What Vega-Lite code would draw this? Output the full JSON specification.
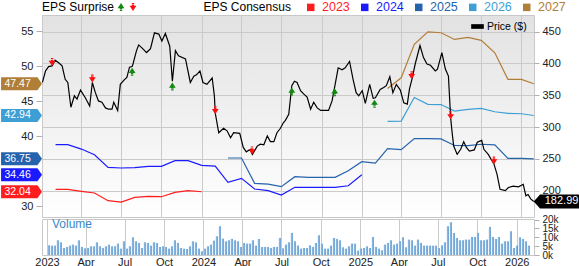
{
  "$schema": "https://vega.github.io/schema/vega-lite/v6.json",
  "padding": 0,
  "autosize": {"type": "pad"},
  "background": "white",
  "spacing": 2,
  "bounds": "flush",
  "config": {
    "font": "Liberation Sans",
    "view": {"stroke": "#c8c8c8"},
    "axis": {"labelFont": "Liberation Sans", "labelFontSize": 11, "labelColor": "#222222", "tickColor": "#b0b0b0", "gridColor": "#cacaca", "domain": false, "title": null},
    "legend": {"labelFont": "Liberation Sans", "titleFont": "Liberation Sans", "labelFontSize": 12, "titleFontSize": 12, "titleFontWeight": "normal", "titleColor": "#000000", "labelColor": "#000000", "padding": 0, "offset": 0}
  },
  "datasets": {
    "consensus": [
      {"year": "2023", "date": "2023-02-01", "eps": 32.38}, {"year": "2023", "date": "2023-03-01", "eps": 32.38}, {"year": "2023", "date": "2023-04-01", "eps": 32.1}, {"year": "2023", "date": "2023-05-01", "eps": 31.86}, {"year": "2023", "date": "2023-06-01", "eps": 30.76}, {"year": "2023", "date": "2023-07-01", "eps": 30.57}, {"year": "2023", "date": "2023-08-01", "eps": 31.24}, {"year": "2023", "date": "2023-09-01", "eps": 31.38}, {"year": "2023", "date": "2023-10-01", "eps": 31.33}, {"year": "2023", "date": "2023-11-01", "eps": 31.95}, {"year": "2023", "date": "2023-12-01", "eps": 32.19}, {"year": "2023", "date": "2024-01-01", "eps": 32.04},
      {"year": "2024", "date": "2023-02-01", "eps": 38.76}, {"year": "2024", "date": "2023-03-01", "eps": 38.76}, {"year": "2024", "date": "2023-04-01", "eps": 38.14}, {"year": "2024", "date": "2023-05-01", "eps": 37.33}, {"year": "2024", "date": "2023-06-01", "eps": 35.53}, {"year": "2024", "date": "2023-07-01", "eps": 35.43}, {"year": "2024", "date": "2023-08-01", "eps": 35.48}, {"year": "2024", "date": "2023-09-01", "eps": 35.67}, {"year": "2024", "date": "2023-10-01", "eps": 35.67}, {"year": "2024", "date": "2023-11-01", "eps": 36.48}, {"year": "2024", "date": "2023-12-01", "eps": 36.48}, {"year": "2024", "date": "2024-01-01", "eps": 35.81}, {"year": "2024", "date": "2024-02-01", "eps": 35.71}, {"year": "2024", "date": "2024-03-01", "eps": 33.38}, {"year": "2024", "date": "2024-04-01", "eps": 33.96}, {"year": "2024", "date": "2024-05-01", "eps": 32.43}, {"year": "2024", "date": "2024-06-01", "eps": 32.19}, {"year": "2024", "date": "2024-07-01", "eps": 31.57}, {"year": "2024", "date": "2024-08-01", "eps": 32.67}, {"year": "2024", "date": "2024-09-01", "eps": 32.67}, {"year": "2024", "date": "2024-10-01", "eps": 32.67}, {"year": "2024", "date": "2024-11-01", "eps": 32.67}, {"year": "2024", "date": "2024-12-01", "eps": 32.9}, {"year": "2024", "date": "2025-01-01", "eps": 34.46},
      {"year": "2025", "date": "2024-03-01", "eps": 36.86}, {"year": "2025", "date": "2024-04-01", "eps": 36.86}, {"year": "2025", "date": "2024-05-01", "eps": 33.24}, {"year": "2025", "date": "2024-06-01", "eps": 33.14}, {"year": "2025", "date": "2024-07-01", "eps": 32.76}, {"year": "2025", "date": "2024-08-01", "eps": 34.19}, {"year": "2025", "date": "2024-09-01", "eps": 34.1}, {"year": "2025", "date": "2024-10-01", "eps": 34.1}, {"year": "2025", "date": "2024-11-01", "eps": 34.1}, {"year": "2025", "date": "2024-12-01", "eps": 35.04}, {"year": "2025", "date": "2025-01-01", "eps": 36.33}, {"year": "2025", "date": "2025-02-01", "eps": 36.14}, {"year": "2025", "date": "2025-03-01", "eps": 38.19}, {"year": "2025", "date": "2025-04-01", "eps": 38.05}, {"year": "2025", "date": "2025-05-01", "eps": 39.65}, {"year": "2025", "date": "2025-06-01", "eps": 39.63}, {"year": "2025", "date": "2025-07-01", "eps": 39.6}, {"year": "2025", "date": "2025-08-01", "eps": 38.65}, {"year": "2025", "date": "2025-09-01", "eps": 38.62}, {"year": "2025", "date": "2025-10-01", "eps": 38.83}, {"year": "2025", "date": "2025-11-01", "eps": 38.73}, {"year": "2025", "date": "2025-12-01", "eps": 36.81}, {"year": "2025", "date": "2026-01-01", "eps": 36.8}, {"year": "2025", "date": "2026-01-29", "eps": 36.75},
      {"year": "2026", "date": "2025-03-01", "eps": 42.1}, {"year": "2026", "date": "2025-04-01", "eps": 42.14}, {"year": "2026", "date": "2025-05-01", "eps": 45.5}, {"year": "2026", "date": "2025-06-01", "eps": 44.53}, {"year": "2026", "date": "2025-07-01", "eps": 44.5}, {"year": "2026", "date": "2025-08-01", "eps": 43.57}, {"year": "2026", "date": "2025-09-01", "eps": 43.8}, {"year": "2026", "date": "2025-10-01", "eps": 43.95}, {"year": "2026", "date": "2025-11-01", "eps": 43.47}, {"year": "2026", "date": "2025-12-01", "eps": 43.24}, {"year": "2026", "date": "2026-01-01", "eps": 43.19}, {"year": "2026", "date": "2026-01-29", "eps": 42.94},
      {"year": "2027", "date": "2025-03-01", "eps": 46.8}, {"year": "2027", "date": "2025-04-01", "eps": 48.33}, {"year": "2027", "date": "2025-05-01", "eps": 53.1}, {"year": "2027", "date": "2025-06-01", "eps": 54.9}, {"year": "2027", "date": "2025-07-01", "eps": 54.76}, {"year": "2027", "date": "2025-08-01", "eps": 53.81}, {"year": "2027", "date": "2025-09-01", "eps": 54.1}, {"year": "2027", "date": "2025-10-01", "eps": 53.67}, {"year": "2027", "date": "2025-11-01", "eps": 51.9}, {"year": "2027", "date": "2025-12-01", "eps": 48.1}, {"year": "2027", "date": "2026-01-01", "eps": 48.1}, {"year": "2027", "date": "2026-01-29", "eps": 47.47}
    ],
    "price": [
      {"date": "2023-01-02", "price": 370}, {"date": "2023-01-09", "price": 388}, {"date": "2023-01-16", "price": 395}, {"date": "2023-01-24", "price": 396}, {"date": "2023-01-31", "price": 405}, {"date": "2023-02-08", "price": 401}, {"date": "2023-02-16", "price": 396}, {"date": "2023-02-23", "price": 375}, {"date": "2023-03-01", "price": 370}, {"date": "2023-03-08", "price": 331}, {"date": "2023-03-16", "price": 349}, {"date": "2023-03-22", "price": 344}, {"date": "2023-03-30", "price": 358}, {"date": "2023-04-10", "price": 346}, {"date": "2023-04-20", "price": 333}, {"date": "2023-04-26", "price": 370}, {"date": "2023-05-03", "price": 354}, {"date": "2023-05-10", "price": 341}, {"date": "2023-05-18", "price": 339}, {"date": "2023-05-26", "price": 330}, {"date": "2023-06-02", "price": 328}, {"date": "2023-06-10", "price": 328}, {"date": "2023-06-14", "price": 339}, {"date": "2023-06-23", "price": 326}, {"date": "2023-06-29", "price": 367}, {"date": "2023-07-08", "price": 374}, {"date": "2023-07-14", "price": 378}, {"date": "2023-07-20", "price": 394}, {"date": "2023-07-26", "price": 395}, {"date": "2023-07-28", "price": 399}, {"date": "2023-08-05", "price": 420}, {"date": "2023-08-10", "price": 429}, {"date": "2023-08-18", "price": 424}, {"date": "2023-08-28", "price": 417}, {"date": "2023-09-06", "price": 423}, {"date": "2023-09-15", "price": 448}, {"date": "2023-09-25", "price": 446}, {"date": "2023-10-02", "price": 435}, {"date": "2023-10-10", "price": 447}, {"date": "2023-10-20", "price": 427}, {"date": "2023-10-26", "price": 372}, {"date": "2023-11-02", "price": 420}, {"date": "2023-11-09", "price": 412}, {"date": "2023-11-25", "price": 407}, {"date": "2023-12-06", "price": 370}, {"date": "2023-12-14", "price": 380}, {"date": "2023-12-20", "price": 382}, {"date": "2023-12-28", "price": 388},
      {"date": "2024-01-04", "price": 370}, {"date": "2024-01-13", "price": 367}, {"date": "2024-01-25", "price": 377}, {"date": "2024-01-30", "price": 349}, {"date": "2024-02-01", "price": 322}, {"date": "2024-02-09", "price": 291}, {"date": "2024-02-20", "price": 298}, {"date": "2024-02-28", "price": 294}, {"date": "2024-03-07", "price": 283}, {"date": "2024-03-14", "price": 291}, {"date": "2024-03-28", "price": 290}, {"date": "2024-04-05", "price": 268}, {"date": "2024-04-12", "price": 261}, {"date": "2024-04-21", "price": 265}, {"date": "2024-04-26", "price": 257}, {"date": "2024-05-07", "price": 270}, {"date": "2024-05-14", "price": 273}, {"date": "2024-05-22", "price": 272}, {"date": "2024-05-30", "price": 286}, {"date": "2024-06-06", "price": 277}, {"date": "2024-06-14", "price": 277}, {"date": "2024-06-21", "price": 291}, {"date": "2024-06-29", "price": 298}, {"date": "2024-07-06", "price": 307}, {"date": "2024-07-10", "price": 310}, {"date": "2024-07-18", "price": 320}, {"date": "2024-07-25", "price": 365}, {"date": "2024-07-31", "price": 372}, {"date": "2024-08-06", "price": 370}, {"date": "2024-08-14", "price": 357}, {"date": "2024-08-21", "price": 352}, {"date": "2024-08-29", "price": 347}, {"date": "2024-09-06", "price": 328}, {"date": "2024-09-13", "price": 339}, {"date": "2024-09-21", "price": 330}, {"date": "2024-09-29", "price": 326}, {"date": "2024-10-10", "price": 326}, {"date": "2024-10-17", "price": 326}, {"date": "2024-10-25", "price": 341}, {"date": "2024-10-31", "price": 363}, {"date": "2024-11-08", "price": 393}, {"date": "2024-11-17", "price": 390}, {"date": "2024-11-24", "price": 393}, {"date": "2024-12-04", "price": 403}, {"date": "2024-12-12", "price": 375}, {"date": "2024-12-19", "price": 354}, {"date": "2024-12-25", "price": 349},
      {"date": "2025-01-02", "price": 357}, {"date": "2025-01-09", "price": 337}, {"date": "2025-01-19", "price": 367}, {"date": "2025-01-27", "price": 345}, {"date": "2025-02-01", "price": 346}, {"date": "2025-02-12", "price": 359}, {"date": "2025-02-20", "price": 362}, {"date": "2025-02-26", "price": 365}, {"date": "2025-03-06", "price": 379}, {"date": "2025-03-13", "price": 354}, {"date": "2025-03-21", "price": 367}, {"date": "2025-03-30", "price": 358}, {"date": "2025-04-07", "price": 338}, {"date": "2025-04-15", "price": 336}, {"date": "2025-04-20", "price": 360}, {"date": "2025-04-26", "price": 376}, {"date": "2025-05-03", "price": 399}, {"date": "2025-05-14", "price": 428}, {"date": "2025-05-22", "price": 409}, {"date": "2025-05-30", "price": 399}, {"date": "2025-06-07", "price": 397}, {"date": "2025-06-18", "price": 388}, {"date": "2025-06-23", "price": 391}, {"date": "2025-07-03", "price": 417}, {"date": "2025-07-11", "price": 391}, {"date": "2025-07-18", "price": 380}, {"date": "2025-07-23", "price": 315}, {"date": "2025-07-26", "price": 294}, {"date": "2025-07-30", "price": 270}, {"date": "2025-08-07", "price": 257}, {"date": "2025-08-15", "price": 265}, {"date": "2025-08-22", "price": 277}, {"date": "2025-08-28", "price": 268}, {"date": "2025-09-04", "price": 262}, {"date": "2025-09-15", "price": 264}, {"date": "2025-09-22", "price": 276}, {"date": "2025-10-02", "price": 279}, {"date": "2025-10-07", "price": 265}, {"date": "2025-10-17", "price": 257}, {"date": "2025-10-30", "price": 242}, {"date": "2025-11-06", "price": 226}, {"date": "2025-11-13", "price": 202}, {"date": "2025-11-25", "price": 200}, {"date": "2025-12-02", "price": 205}, {"date": "2025-12-13", "price": 207}, {"date": "2025-12-25", "price": 206}, {"date": "2026-01-05", "price": 210}, {"date": "2026-01-11", "price": 192}, {"date": "2026-01-16", "price": 194}, {"date": "2026-01-22", "price": 187}, {"date": "2026-01-29", "price": 182.99}
    ],
    "surprise": [
      {"date": "2023-01-24", "price": 396, "type": "miss"}, {"date": "2023-04-26", "price": 370, "type": "miss"}, {"date": "2023-07-26", "price": 393, "type": "beat"}, {"date": "2023-10-26", "price": 370, "type": "beat"}, {"date": "2024-02-01", "price": 320, "type": "miss"}, {"date": "2024-04-25", "price": 257, "type": "miss"}, {"date": "2024-07-25", "price": 362, "type": "beat"}, {"date": "2024-10-31", "price": 361, "type": "beat"}, {"date": "2025-01-30", "price": 343, "type": "beat"}, {"date": "2025-04-25", "price": 375, "type": "miss"}, {"date": "2025-07-23", "price": 312, "type": "miss"}, {"date": "2025-10-30", "price": 241, "type": "miss"}
    ],
    "volume": [
      {"date": "2023-01-05", "vol": 5480}, {"date": "2023-01-12", "vol": 5290}, {"date": "2023-01-19", "vol": 5290}, {"date": "2023-01-26", "vol": 8310}, {"date": "2023-02-02", "vol": 7180}, {"date": "2023-02-09", "vol": 3970}, {"date": "2023-02-16", "vol": 4540}, {"date": "2023-02-23", "vol": 5290}, {"date": "2023-03-02", "vol": 5860}, {"date": "2023-03-09", "vol": 5290},
      {"date": "2023-03-16", "vol": 8310}, {"date": "2023-03-23", "vol": 4540}, {"date": "2023-03-30", "vol": 3790}, {"date": "2023-04-06", "vol": 3970}, {"date": "2023-04-13", "vol": 4920}, {"date": "2023-04-20", "vol": 4920}, {"date": "2023-04-27", "vol": 7180}, {"date": "2023-05-04", "vol": 4920}, {"date": "2023-05-11", "vol": 3970}, {"date": "2023-05-18", "vol": 4920},
      {"date": "2023-05-25", "vol": 5860}, {"date": "2023-06-01", "vol": 4920}, {"date": "2023-06-08", "vol": 4920}, {"date": "2023-06-15", "vol": 6420}, {"date": "2023-06-22", "vol": 3600}, {"date": "2023-06-29", "vol": 7740}, {"date": "2023-07-06", "vol": 3600}, {"date": "2023-07-13", "vol": 4920}, {"date": "2023-07-20", "vol": 10000}, {"date": "2023-07-27", "vol": 7740},
      {"date": "2023-08-03", "vol": 6800}, {"date": "2023-08-10", "vol": 3970}, {"date": "2023-08-17", "vol": 7180}, {"date": "2023-08-24", "vol": 6800}, {"date": "2023-08-31", "vol": 5290}, {"date": "2023-09-07", "vol": 7180}, {"date": "2023-09-14", "vol": 6800}, {"date": "2023-09-21", "vol": 4540}, {"date": "2023-09-28", "vol": 4920}, {"date": "2023-10-05", "vol": 4540},
      {"date": "2023-10-12", "vol": 3600}, {"date": "2023-10-19", "vol": 4920}, {"date": "2023-10-26", "vol": 8310}, {"date": "2023-11-02", "vol": 6800}, {"date": "2023-11-09", "vol": 3970}, {"date": "2023-11-16", "vol": 3600}, {"date": "2023-11-23", "vol": 3410}, {"date": "2023-11-30", "vol": 4920}, {"date": "2023-12-07", "vol": 7740}, {"date": "2023-12-14", "vol": 7180},
      {"date": "2023-12-21", "vol": 3600}, {"date": "2023-12-28", "vol": 2090}, {"date": "2024-01-04", "vol": 3600}, {"date": "2024-01-11", "vol": 4920}, {"date": "2024-01-18", "vol": 5860}, {"date": "2024-01-25", "vol": 8120}, {"date": "2024-02-01", "vol": 10560}, {"date": "2024-02-08", "vol": 16210}, {"date": "2024-02-15", "vol": 9250}, {"date": "2024-02-22", "vol": 7740},
      {"date": "2024-02-29", "vol": 8310}, {"date": "2024-03-07", "vol": 9060}, {"date": "2024-03-14", "vol": 8310}, {"date": "2024-03-21", "vol": 7740}, {"date": "2024-03-28", "vol": 4540}, {"date": "2024-04-04", "vol": 6800}, {"date": "2024-04-11", "vol": 6420}, {"date": "2024-04-18", "vol": 6420}, {"date": "2024-04-25", "vol": 8310}, {"date": "2024-05-02", "vol": 5290},
      {"date": "2024-05-09", "vol": 9060}, {"date": "2024-05-16", "vol": 4540}, {"date": "2024-05-23", "vol": 4540}, {"date": "2024-05-30", "vol": 4540}, {"date": "2024-06-06", "vol": 3970}, {"date": "2024-06-13", "vol": 4540}, {"date": "2024-06-20", "vol": 4540}, {"date": "2024-06-27", "vol": 9620}, {"date": "2024-07-04", "vol": 3790}, {"date": "2024-07-11", "vol": 5860},
      {"date": "2024-07-18", "vol": 7180}, {"date": "2024-07-25", "vol": 12450}, {"date": "2024-08-01", "vol": 7740}, {"date": "2024-08-08", "vol": 5290}, {"date": "2024-08-15", "vol": 3600}, {"date": "2024-08-22", "vol": 3970}, {"date": "2024-08-29", "vol": 3970}, {"date": "2024-09-05", "vol": 5480}, {"date": "2024-09-12", "vol": 4540}, {"date": "2024-09-19", "vol": 6800},
      {"date": "2024-09-26", "vol": 11130}, {"date": "2024-10-03", "vol": 6420}, {"date": "2024-10-10", "vol": 3600}, {"date": "2024-10-17", "vol": 3600}, {"date": "2024-10-24", "vol": 5290}, {"date": "2024-10-31", "vol": 9620}, {"date": "2024-11-07", "vol": 9060}, {"date": "2024-11-14", "vol": 8310}, {"date": "2024-11-21", "vol": 4350}, {"date": "2024-11-28", "vol": 3600},
      {"date": "2024-12-05", "vol": 4920}, {"date": "2024-12-12", "vol": 6420}, {"date": "2024-12-19", "vol": 6420}, {"date": "2024-12-26", "vol": 2470}, {"date": "2025-01-02", "vol": 3600}, {"date": "2025-01-09", "vol": 3970}, {"date": "2025-01-16", "vol": 4920}, {"date": "2025-01-23", "vol": 3970}, {"date": "2025-01-30", "vol": 10190}, {"date": "2025-02-06", "vol": 4540},
      {"date": "2025-02-13", "vol": 3600}, {"date": "2025-02-20", "vol": 2660}, {"date": "2025-02-27", "vol": 5860}, {"date": "2025-03-06", "vol": 6800}, {"date": "2025-03-13", "vol": 8310}, {"date": "2025-03-20", "vol": 5860}, {"date": "2025-03-27", "vol": 6420}, {"date": "2025-04-03", "vol": 7740}, {"date": "2025-04-10", "vol": 10000}, {"date": "2025-04-17", "vol": 4350},
      {"date": "2025-04-24", "vol": 8680}, {"date": "2025-05-01", "vol": 8310}, {"date": "2025-05-08", "vol": 5290}, {"date": "2025-05-15", "vol": 8680}, {"date": "2025-05-22", "vol": 6800}, {"date": "2025-05-29", "vol": 5290}, {"date": "2025-06-05", "vol": 5290}, {"date": "2025-06-12", "vol": 5290}, {"date": "2025-06-19", "vol": 5290}, {"date": "2025-06-26", "vol": 5290},
      {"date": "2025-07-03", "vol": 3970}, {"date": "2025-07-10", "vol": 5480}, {"date": "2025-07-17", "vol": 7180}, {"date": "2025-07-24", "vol": 16210}, {"date": "2025-07-31", "vol": 18470}, {"date": "2025-08-07", "vol": 12450}, {"date": "2025-08-14", "vol": 9620}, {"date": "2025-08-21", "vol": 8310}, {"date": "2025-08-28", "vol": 8310}, {"date": "2025-09-04", "vol": 8680},
      {"date": "2025-09-11", "vol": 8680}, {"date": "2025-09-18", "vol": 10190}, {"date": "2025-09-25", "vol": 10190}, {"date": "2025-10-02", "vol": 12450}, {"date": "2025-10-09", "vol": 8310}, {"date": "2025-10-16", "vol": 8310}, {"date": "2025-10-23", "vol": 8680}, {"date": "2025-10-30", "vol": 15840}, {"date": "2025-11-06", "vol": 10190}, {"date": "2025-11-13", "vol": 9060},
      {"date": "2025-11-20", "vol": 10190}, {"date": "2025-11-27", "vol": 6420}, {"date": "2025-12-04", "vol": 7740}, {"date": "2025-12-11", "vol": 7740}, {"date": "2025-12-18", "vol": 13390}, {"date": "2025-12-25", "vol": 3970}, {"date": "2026-01-01", "vol": 5290}, {"date": "2026-01-08", "vol": 10000}, {"date": "2026-01-15", "vol": 9060}, {"date": "2026-01-22", "vol": 7740},
      {"date": "2026-01-29", "vol": 5290}
    ]
  },
  "resolve": {"scale": {"color": "independent", "fill": "independent", "shape": "independent", "stroke": "independent"}},
  "vconcat": [
    {
      "width": 492,
      "height": 202,
      "view": {"stroke": "#c8c8c8", "fill": {"gradient": "linear", "x1": 0, "y1": 0, "x2": 0, "y2": 1, "stops": [{"offset": 0, "color": "#e2e2e2"}, {"offset": 1, "color": "#ffffff"}]}},
      "encoding": {
        "x": {
          "field": "date", "type": "temporal",
          "scale": {"type": "utc", "domain": [{"year": 2023, "month": 1, "date": 1, "utc": true}, {"year": 2026, "month": 1, "date": 29, "hours": 14, "utc": true}]},
          "axis": {"values": [{"year": 2023, "month": 1, "date": 1, "utc": true}, {"year": 2023, "month": 4, "date": 1, "utc": true}, {"year": 2023, "month": 7, "date": 1, "utc": true}, {"year": 2023, "month": 10, "date": 1, "utc": true}, {"year": 2024, "month": 1, "date": 1, "utc": true}, {"year": 2024, "month": 4, "date": 1, "utc": true}, {"year": 2024, "month": 7, "date": 1, "utc": true}, {"year": 2024, "month": 10, "date": 1, "utc": true}, {"year": 2025, "month": 1, "date": 1, "utc": true}, {"year": 2025, "month": 4, "date": 1, "utc": true}, {"year": 2025, "month": 7, "date": 1, "utc": true}, {"year": 2025, "month": 10, "date": 1, "utc": true}, {"year": 2026, "month": 1, "date": 1, "utc": true}], "grid": true, "labels": false, "ticks": false, "domain": false, "title": null}
        }
      },
      "layer": [
        {
          "layer": [
            {
              "data": {"name": "consensus"},
              "mark": {"type": "line", "strokeWidth": 1.2},
              "encoding": {
                "y": {"field": "eps", "type": "quantitative", "scale": {"domain": [28.43, 57.3], "nice": false, "zero": false}, "axis": {"orient": "left", "values": [30, 40, 45, 50, 55], "grid": false, "tickSize": 6, "labelPadding": 3}},
                "color": {
                  "field": "year", "type": "nominal",
                  "scale": {"domain": ["2023", "2024", "2025", "2026", "2027"], "range": ["#ff1e1e", "#1a1aff", "#2563ad", "#3e9fd5", "#b17e37"]},
                  "legend": {
                    "title": "EPS Consensus", "orient": "none", "legendX": 161.5, "legendY": -14, "direction": "horizontal", "titleOrient": "left", "titlePadding": 13,
                    "symbolType": "square", "symbolSize": 56, "symbolStrokeWidth": 0, "labelOffset": 5, "columnPadding": 8, "labelFontSize": 12.5,
                    "encode": {
                      "symbols": {"update": {"fill": {"signal": "datum.label == '2023' ? '#ff1e1e' : datum.label == '2024' ? '#1a1aff' : datum.label == '2025' ? '#2563ad' : datum.label == '2026' ? '#3e9fd5' : '#b17e37'"}, "stroke": {"value": "transparent"}}},
                      "labels": {"update": {"fill": {"signal": "datum.label == '2023' ? '#ff1e1e' : datum.label == '2024' ? '#1a1aff' : datum.label == '2025' ? '#2563ad' : datum.label == '2026' ? '#3e9fd5' : '#b17e37'"}}}
                    }
                  }
                }
              }
            },
            {
              "data": {"name": "consensus"},
              "transform": [{"window": [{"op": "row_number", "as": "rn"}], "groupby": ["year"], "sort": [{"field": "date", "order": "descending"}]}, {"filter": "datum.rn == 1"}],
              "mark": {"type": "point", "shape": "M0,0L-0.7,-1L-6.3,-1L-6.3,1L-0.7,1Z", "size": 169, "filled": true, "opacity": 1, "strokeWidth": 0},
              "encoding": {
                "x": {"datum": {"year": 2023, "month": 1, "date": 1, "utc": true}, "type": "temporal"},
                "y": {"field": "eps", "type": "quantitative"},
                "color": {"field": "year", "type": "nominal", "legend": null}
              }
            },
            {
              "data": {"name": "consensus"},
              "transform": [{"window": [{"op": "row_number", "as": "rn"}], "groupby": ["year"], "sort": [{"field": "date", "order": "descending"}]}, {"filter": "datum.rn == 1"}],
              "mark": {"type": "text", "align": "left", "baseline": "middle", "dx": -37.5, "color": "#ffffff", "fontSize": 10.5},
              "encoding": {
                "x": {"datum": {"year": 2023, "month": 1, "date": 1, "utc": true}, "type": "temporal"},
                "y": {"field": "eps", "type": "quantitative"},
                "text": {"field": "eps", "type": "quantitative", "format": ".2f"}
              }
            }
          ]
        },
        {
          "layer": [
            {
              "data": {"name": "price"},
              "mark": {"type": "line", "strokeWidth": 1.2},
              "encoding": {
                "y": {"field": "price", "type": "quantitative", "scale": {"domain": [158.6, 476], "nice": false, "zero": false}, "axis": {"orient": "right", "values": [200, 250, 300, 350, 400, 450], "grid": true, "tickSize": 5, "labelPadding": 3}},
                "stroke": {
                  "datum": "Price ($)", "type": "nominal", "scale": {"range": ["#000000"]},
                  "legend": {"title": null, "orient": "none", "legendX": 429, "legendY": 5, "symbolType": "M-1,-0.37L1,-0.37L1,0.37L-1,0.37Z", "symbolSize": 160, "symbolStrokeWidth": 0, "labelFontSize": 10.5, "labelOffset": 3, "encode": {"symbols": {"update": {"fill": {"value": "#000000"}}}}}
                }
              }
            },
            {
              "data": {"name": "surprise"},
              "transform": [{"filter": "datum.type == 'beat'"}],
              "mark": {"type": "point", "filled": true, "opacity": 1, "size": 64, "strokeWidth": 0, "yOffset": 4},
              "encoding": {
                "y": {"field": "price", "type": "quantitative"},
                "fill": {"field": "type", "type": "nominal", "scale": {"domain": ["beat", "miss"], "range": ["#128a12", "#ff1010"]}, "legend": {"title": "EPS Surprise", "orient": "none", "legendX": 0, "legendY": -14, "direction": "horizontal", "titleOrient": "left", "titlePadding": 0, "labelExpr": "''", "labelOffset": 0, "columnPadding": -2, "symbolSize": 64, "symbolOpacity": 1, "symbolStrokeWidth": 0}},
                "shape": {"field": "type", "type": "nominal", "scale": {"domain": ["beat", "miss"], "range": ["M0,-1L0.85,0.3L0.3,0.3L0.3,0.55L-0.3,0.55L-0.3,0.3L-0.85,0.3Z M-0.3,0.7L0.3,0.7L0.3,1L-0.3,1Z", "M0,1L0.85,-0.3L0.3,-0.3L0.3,-0.55L-0.3,-0.55L-0.3,-0.3L-0.85,-0.3Z M-0.3,-0.7L0.3,-0.7L0.3,-1L-0.3,-1Z"]}, "legend": {"title": "EPS Surprise", "orient": "none", "legendX": 0, "legendY": -14, "direction": "horizontal", "titleOrient": "left", "titlePadding": 0, "labelExpr": "''", "labelOffset": 0, "columnPadding": -2, "symbolSize": 64, "symbolOpacity": 1, "symbolStrokeWidth": 0}}
              }
            },
            {
              "data": {"name": "surprise"},
              "transform": [{"filter": "datum.type == 'miss'"}],
              "mark": {"type": "point", "filled": true, "opacity": 1, "size": 64, "strokeWidth": 0, "yOffset": -4},
              "encoding": {
                "y": {"field": "price", "type": "quantitative"},
                "fill": {"field": "type", "type": "nominal"},
                "shape": {"field": "type", "type": "nominal"}
              }
            },
            {
              "data": {"name": "price"},
              "transform": [{"window": [{"op": "row_number", "as": "rn"}], "sort": [{"field": "date", "order": "descending"}]}, {"filter": "datum.rn == 1"}],
              "mark": {"type": "point", "shape": "M0,0L0.9,-1L6.5,-1L6.5,1L0.9,1Z", "size": 196, "filled": true, "color": "#000000", "opacity": 1, "strokeWidth": 0},
              "encoding": {"y": {"field": "price", "type": "quantitative"}}
            },
            {
              "data": {"name": "price"},
              "transform": [{"window": [{"op": "row_number", "as": "rn"}], "sort": [{"field": "date", "order": "descending"}]}, {"filter": "datum.rn == 1"}],
              "mark": {"type": "text", "align": "left", "baseline": "middle", "dx": 11, "color": "#ffffff", "fontSize": 11},
              "encoding": {"y": {"field": "price", "type": "quantitative"}, "text": {"field": "price", "type": "quantitative", "format": ".2f"}}
            }
          ]
        }
      ],
      "resolve": {"scale": {"y": "independent"}}
    },
    {
      "width": 492,
      "height": 36,
      "data": {"name": "volume"},
      "title": {"text": "Volume", "anchor": "start", "orient": "top", "frame": "group", "offset": -16, "dx": 10, "fontSize": 12, "fontWeight": "normal", "color": "#3a88c8", "font": "Liberation Sans"},
      "mark": {"type": "bar", "size": 2, "fill": {"gradient": "linear", "x1": 0, "y1": 0, "x2": 1, "y2": 0, "stops": [{"offset": 0, "color": "#b8d5ef"}, {"offset": 1, "color": "#3580c4"}]}},
      "encoding": {
        "x": {
          "field": "date", "type": "temporal",
          "scale": {"type": "utc", "domain": [{"year": 2023, "month": 1, "date": 1, "utc": true}, {"year": 2026, "month": 1, "date": 29, "hours": 14, "utc": true}]},
          "axis": {"values": [{"year": 2023, "month": 1, "date": 1, "utc": true}, {"year": 2023, "month": 4, "date": 1, "utc": true}, {"year": 2023, "month": 7, "date": 1, "utc": true}, {"year": 2023, "month": 10, "date": 1, "utc": true}, {"year": 2024, "month": 1, "date": 1, "utc": true}, {"year": 2024, "month": 4, "date": 1, "utc": true}, {"year": 2024, "month": 7, "date": 1, "utc": true}, {"year": 2024, "month": 10, "date": 1, "utc": true}, {"year": 2025, "month": 1, "date": 1, "utc": true}, {"year": 2025, "month": 4, "date": 1, "utc": true}, {"year": 2025, "month": 7, "date": 1, "utc": true}, {"year": 2025, "month": 10, "date": 1, "utc": true}, {"year": 2026, "month": 1, "date": 1, "utc": true}], "grid": true, "ticks": false, "domain": false, "title": null, "labelPadding": 1, "labelFontSize": 11, "labelFlush": false, "labelOverlap": false, "labelExpr": "utcmonth(datum.value) == 0 ? utcFormat(datum.value, '%Y') : utcFormat(datum.value, '%b')"}
        },
        "y": {"field": "vol", "type": "quantitative", "scale": {"domain": [0, 20300], "nice": false}, "axis": {"orient": "right", "values": [0, 5000, 10000, 15000, 20000], "format": "~s", "grid": false, "tickSize": 5, "labelPadding": 3, "labelOverlap": false, "labelFlush": false, "labelFontSize": 10}}
      }
    }
  ]
}
